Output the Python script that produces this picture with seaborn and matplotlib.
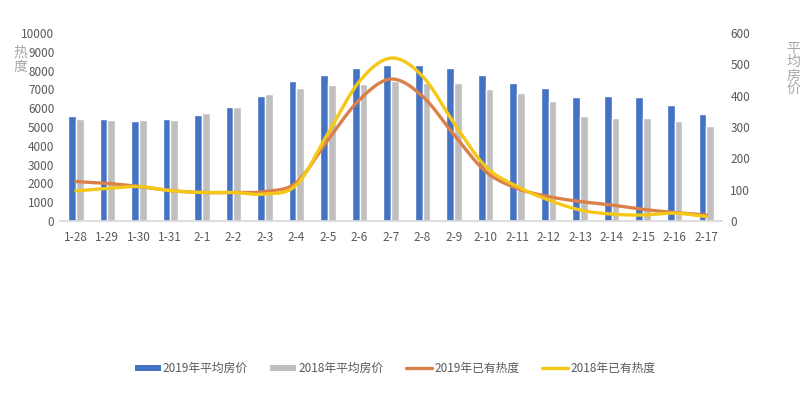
"""热度与平均房价对比图."""

import matplotlib.pyplot as plt
import numpy as np
import pandas as pd
import seaborn as sns
from matplotlib.lines import Line2D
from matplotlib.patches import Patch

dates = ["1-28", "1-29", "1-30", "1-31", "2-1", "2-2", "2-3", "2-4", "2-5", "2-6", "2-7",
         "2-8", "2-9", "2-10", "2-11", "2-12", "2-13", "2-14", "2-15", "2-16", "2-17"]
price_2019 = [5600, 5430, 5330, 5430, 5650, 6070, 6660, 7460, 7780, 8150, 8310,
              8310, 8150, 7780, 7350, 7090, 6610, 6660, 6610, 6180, 5700]
price_2018 = [5430, 5380, 5380, 5380, 5750, 6070, 6770, 7090, 7250, 7300, 7450,
              7340, 7350, 7030, 6820, 6390, 5600, 5490, 5490, 5330, 5060]
heat_2019 = [126, 120, 110, 97, 91, 91, 94, 123, 259, 387, 453,
             398, 275, 158, 104, 78, 62, 51, 37, 27, 19]
heat_2018 = [96, 104, 110, 97, 91, 91, 86, 115, 280, 446, 520,
             462, 312, 174, 110, 67, 35, 22, 19, 25, 14]

BLUE = "#4472C4"
GRAY = "#BFBFBF"
ORANGE = "#DB8048"
YELLOW = "#F5C818"
TXT = "#595959"

sns.set_theme(style="white")
plt.rcParams["font.family"] = ["Noto Sans CJK SC", "DejaVu Sans"]


def smooth(y, n=20):
    # Catmull-Rom 曲线, 仿 Excel 平滑线
    y = np.asarray(y, dtype=float)
    p = np.concatenate([[2 * y[0] - y[1]], y, [2 * y[-1] - y[-2]]])
    xs, ys = [], []
    t = np.linspace(0, 1, n, endpoint=False)
    for i in range(len(y) - 1):
        p0, p1, p2, p3 = p[i], p[i + 1], p[i + 2], p[i + 3]
        seg = 0.5 * (2 * p1 + (-p0 + p2) * t + (2 * p0 - 5 * p1 + 4 * p2 - p3) * t ** 2
                     + (-p0 + 3 * p1 - 3 * p2 + p3) * t ** 3)
        xs.extend(i + t)
        ys.extend(seg)
    xs.append(len(y) - 1)
    ys.append(y[-1])
    return np.array(xs), np.array(ys)


df = pd.DataFrame({
    "date": dates * 2,
    "price": price_2019 + price_2018,
    "series": ["2019年平均房价"] * len(dates) + ["2018年平均房价"] * len(dates),
})

fig = plt.figure(figsize=(8.08, 3.93), dpi=100)
ax = fig.add_axes([0.0743, 0.4377, 0.8193, 0.4783])
sns.barplot(data=df, x="date", y="price", hue="series", palette=[BLUE, GRAY],
            width=0.49, gap=0, ax=ax, legend=False, saturation=1)
ax.set_xlim(-0.5, len(dates) - 0.5)
ax.set_ylim(0, 10000)
ax.set_yticks(np.arange(0, 10001, 1000))
ax.set_xlabel("")
ax.set_ylabel("")
for s in ["top", "right", "left"]:
    ax.spines[s].set_visible(False)
ax.spines["bottom"].set_color("#D9D9D9")
ax.tick_params(axis="y", length=0, labelsize=8.5, colors=TXT, pad=4)
ax.tick_params(axis="x", which="major", length=0, labelsize=8.5, colors=TXT, pad=7)
ax.set_xticks(np.arange(-0.5, len(dates), 1), minor=True)
ax.tick_params(axis="x", which="minor", length=4, color="#D9D9D9", direction="out")

ax2 = ax.twinx()
for vals, col in [(heat_2019, ORANGE), (heat_2018, YELLOW)]:
    xs, ys = smooth(vals)
    sns.lineplot(x=xs, y=ys, ax=ax2, color=col, linewidth=2.4, sort=False, estimator=None)
ax2.set_ylim(0, 600)
ax2.set_yticks(np.arange(0, 601, 100))
for s in ax2.spines.values():
    s.set_visible(False)
ax2.tick_params(axis="y", length=0, labelsize=8.5, colors=TXT, pad=6)

fig.text(0.025, 0.848, "热\n度", fontsize=10, color="#A6A6A6", ha="center", va="center",
         linespacing=1.0)
fig.text(0.982, 0.825, "平\n均\n房\n价", fontsize=10, color="#A6A6A6", ha="center",
         va="center", linespacing=0.95)

handles = [
    Patch(facecolor=BLUE, edgecolor="none"),
    Patch(facecolor=GRAY, edgecolor="none"),
    Line2D([], [], color=ORANGE, linewidth=2.4),
    Line2D([], [], color=YELLOW, linewidth=2.4),
]
labels = ["2019年平均房价", "2018年平均房价", "2019年已有热度", "2018年已有热度"]
fig.legend(handles, labels, loc="center", bbox_to_anchor=(0.489, 0.063), ncol=4,
           frameon=False, fontsize=8.5, labelcolor=TXT, handlelength=2.2,
           handleheight=0.4, handletextpad=0.2, columnspacing=1.9)

fig.savefig("out.png", dpi=100, facecolor="white")
